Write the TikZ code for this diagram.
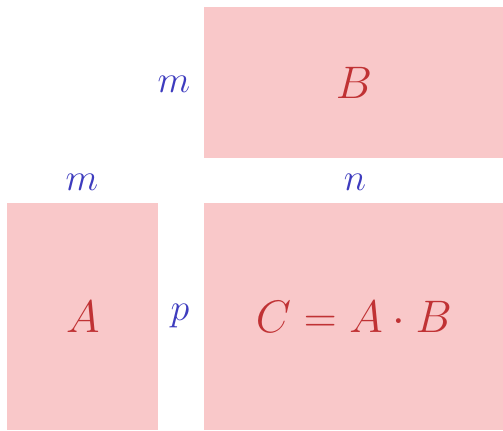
\RequirePackage{fix-cm}
\documentclass[tikz,border=0pt]{standalone}
\usetikzlibrary{positioning}
\definecolor{matfill}{RGB}{249,200,201}
\definecolor{mattext}{RGB}{192,50,52}
\definecolor{dimtext}{RGB}{62,60,190}
\tikzset{
  mat/.style={fill=matfill,text=mattext,anchor=north west,inner sep=0pt,font=\fontsize{22.8}{27}\selectfont},
  dim/.style={text=dimtext,font=\fontsize{19}{23}\selectfont}
}
\begin{document}
\begin{tikzpicture}[x=0.5pt,y=-0.5pt]
\useasboundingbox (0,0) rectangle (503,430);
\node[mat,minimum width=149.5pt,minimum height=75.5pt] (B) at (204,7) {$B$};
\node[mat,minimum width=75.5pt,minimum height=113.5pt] (A) at (7,203) {$A$};
\node[mat,minimum width=149.5pt,minimum height=113.5pt] (C) at (204,203) {$C = A \cdot B$};

\node[dim] (mB) at (174,84) {$m$};
\node[dim] (mA) at (82,182) {$m$};
\node[dim] (nB) at (355,182) {$n$};
\node[dim] (pA) at (180,316) {$p$};

\end{tikzpicture}
\end{document}
